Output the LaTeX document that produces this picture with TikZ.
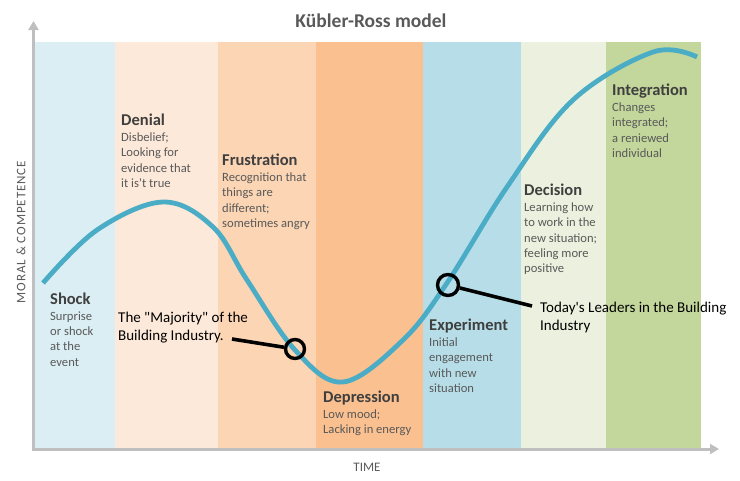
\documentclass[tikz,border=0pt]{standalone}
\usepackage{fontspec}
\setmainfont{Carlito}
\usetikzlibrary{positioning,arrows.meta}

\definecolor{shockbg}{HTML}{DAEEF3}
\definecolor{denialbg}{HTML}{FDE9D9}
\definecolor{frustbg}{HTML}{FBD5B4}
\definecolor{depbg}{HTML}{FAC08F}
\definecolor{expbg}{HTML}{B7DEE8}
\definecolor{decbg}{HTML}{EBF1DE}
\definecolor{intbg}{HTML}{C3D69B}
\definecolor{curveblue}{HTML}{4BACC6}
\definecolor{axisgray}{HTML}{BFBFBF}
\definecolor{headgray}{HTML}{3F3F3F}
\definecolor{textgray}{HTML}{595959}

\tikzset{
    stage/.style={anchor=base west,inner sep=0pt,text depth=0pt,text=headgray,font=\fontsize{16.5}{19}\selectfont\bfseries},
    stagetext/.style={inner sep=0pt,align=left,text=textgray,font=\fontsize{12.6}{15.2}\selectfont},
    note/.style={anchor=north west,inner sep=0pt,align=left,font=\fontsize{15}{18}\selectfont},
    ring/.style={draw,circle,line width=3.4pt,minimum size=19pt,inner sep=0pt},
    pointer/.style={line width=3.6pt},
    axislabel/.style={text=textgray,font=\fontsize{13}{15}\selectfont},
}

\begin{document}
\begin{tikzpicture}[x=1pt,y=-1pt]
    \useasboundingbox (0,0) rectangle (740,480);

    \fill[shockbg] (35,42) rectangle (115,449);
    \fill[denialbg] (115,42) rectangle (218,449);
    \fill[frustbg] (218,42) rectangle (316,449);
    \fill[depbg] (316,42) rectangle (423,449);
    \fill[expbg] (423,42) rectangle (521,449);
    \fill[decbg] (521,42) rectangle (606,449);
    \fill[intbg] (606,42) rectangle (701,449);

    \coordinate (origin) at (33.5,449);
    \coordinate (ytip) at (33.5,21);
    \coordinate (xtip) at (719,449);
    \draw[axisgray,line width=3pt,{Triangle[length=9pt,width=10pt]}-{Triangle[length=9pt,width=10pt]}] (ytip) -- (origin) -- (xtip);

    \node[text=textgray,font=\fontsize{19.5}{22}\selectfont\bfseries] (title) at (371,21) {Kübler-Ross model};
    \node[axislabel,rotate=90,font=\fontsize{13}{15}\selectfont\addfontfeature{LetterSpace=7}] (moral) at (21,232) {MORAL \& COMPETENCE};
    \node[axislabel] (time) at (367,467) {TIME};

    \draw[curveblue,line width=4.8pt] plot[smooth,tension=0.6] coordinates {(43,283) (97,230) (163,202) (213,227) (247,280) (295,350) (343,382) (403,340) (447,283) (507,187) (573,100) (653,52) (697,57)};

    \node[stage] (shock) at (50,304) {Shock};
    \node[stagetext,below right=7.5pt and 0pt of shock.south west] (shocktext) {Surprise\\or shock\\at the\\event};
    \node[stage] (denial) at (121,125) {Denial};
    \node[stagetext,below right=7.5pt and 0pt of denial.south west] (denialtext) {Disbelief;\\Looking for\\evidence that\\it is't true};
    \node[stage] (frustration) at (222,165) {Frustration};
    \node[stagetext,below right=7.5pt and 0pt of frustration.south west] (frustrationtext) {Recognition that\\things are\\different;\\sometimes angry};
    \node[stage] (depression) at (323,402) {Depression};
    \node[stagetext,below right=7.5pt and 0pt of depression.south west] (depressiontext) {Low mood;\\Lacking in energy};
    \node[stage] (experiment) at (429,330) {Experiment};
    \node[stagetext,below right=7.5pt and 0pt of experiment.south west] (experimenttext) {Initial\\engagement\\with new\\situation};
    \node[stage] (decision) at (524,195) {Decision};
    \node[stagetext,below right=7.5pt and 0pt of decision.south west] (decisiontext) {Learning how\\to work in the\\new situation;\\feeling more\\positive};
    \node[stage] (integration) at (612,95) {Integration};
    \node[stagetext,below right=7.5pt and 0pt of integration.south west] (integrationtext) {Changes\\integrated;\\a reniewed\\individual};

    \node[ring] (majring) at (295,349) {};
    \node[note] (majority) at (118,311.5) {The \textquotedbl Majority\textquotedbl{} of the\\Building Industry.};
    \coordinate (majend) at (232,339);
    \draw[pointer] (majend) -- (majring);

    \node[ring,minimum size=21pt] (leadring) at (448,285) {};
    \node[note] (leaders) at (540,302) {Today\textquotesingle s Leaders in the Building\\Industry};
    \coordinate (leadend) at (532,306);
    \draw[pointer] (leadring) -- (leadend);
\end{tikzpicture}
\end{document}
